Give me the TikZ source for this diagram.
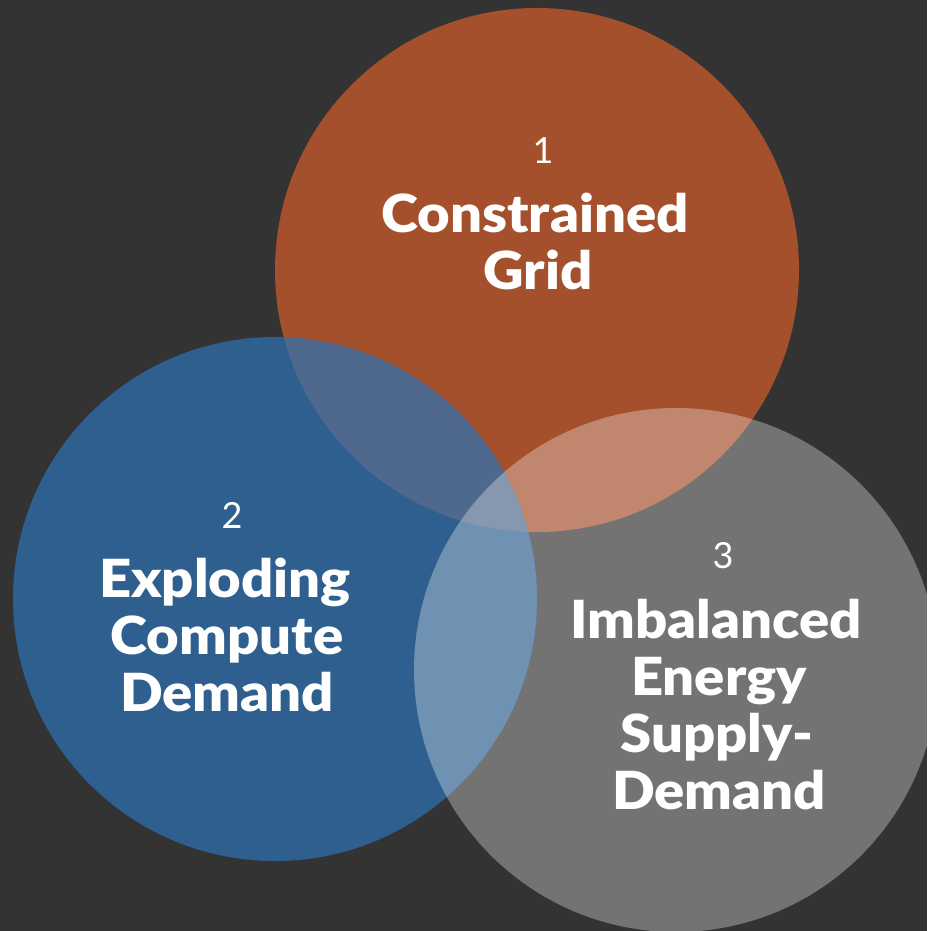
\documentclass[tikz,border=0pt]{standalone}
\usepackage{fontspec}
\setmainfont{Lato}
\newfontfamily\blackfont{Lato Black}[FakeStretch=1.07]
\usepackage{xcolor}
\usetikzlibrary{positioning, calc}

\definecolor{bgdark}{HTML}{333333}
\definecolor{gridorange}{HTML}{A4502C}
\definecolor{computeblue}{RGB}{44,115,183}

\begin{document}
\begin{tikzpicture}[x=1pt, y=-1pt,
        ring/.style={circle, minimum size=524pt, inner sep=0pt},
        numlabel/.style={anchor=base, text=white, inner sep=0pt,
        font=\fontsize{36}{40}\selectfont},
        headline/.style={anchor=base, text=white, inner sep=0pt,
        font=\blackfont\fontsize{52.5}{57}\selectfont}]
        \fill [bgdark] (0,0) rectangle (927,931);
        \useasboundingbox (0,0) rectangle (927,931);
        \clip (0,0) rectangle (927,931);
        % the three circles
        \node [ring, fill=gridorange] (grid) at (537,270) {};
        \node [ring, fill=computeblue, fill opacity=0.7] (compute) at
        (275,599) {};
        \node [ring, fill=white, fill opacity=0.314] (energy) at (676,670)
        {};
        % circle 1
        \node [numlabel] (n1) at ($(grid.center) + (6,-107)$) {1};
        \node [headline] (t1a) at ($(grid.center) + (-2,-38)$)
        {Constrained};
        \node [headline] (t1b) at ($(grid.center) + (1,19)$) {Grid};
        % circle 2
        \node [numlabel] (n2) at ($(compute.center) + (-43,-71)$) {2};
        \node [headline] (t2a) at ($(compute.center) + (-50,-2)$)
        {Exploding};
        \node [headline] (t2b) at ($(compute.center) + (-48,55)$)
        {Compute};
        \node [headline] (t2c) at ($(compute.center) + (-48,112)$)
        {Demand};
        % circle 3
        \node [numlabel] (n3) at ($(energy.center) + (47,-102)$) {3};
        \node [headline] (t3a) at ($(energy.center) + (40,-32)$)
        {Imbalanced};
        \node [headline] (t3b) at ($(energy.center) + (43,25)$) {Energy};
        \node [headline] (t3c) at ($(energy.center) + (41,82)$) {Supply-};
        \node [headline] (t3d) at ($(energy.center) + (43,139)$) {Demand};
    \end{tikzpicture}
\end{document}
